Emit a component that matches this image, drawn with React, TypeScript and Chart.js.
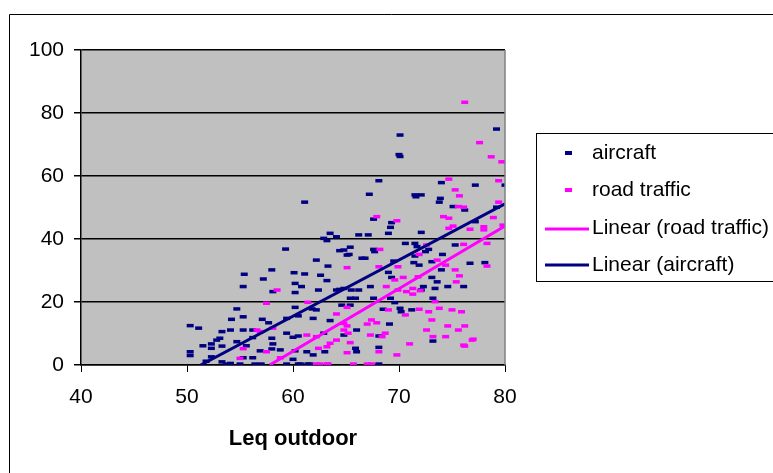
import React, { useEffect, useRef } from "react";
import { Chart, registerables } from "chart.js";
Chart.register(...registerables);

const FONT = '"Liberation Sans", Arial, sans-serif';

const xTicks = [40, 50, 60, 70, 80];
const yTicks = [0, 20, 40, 60, 80, 100];

const aircraftPoints: [number, number][] = [
  [63.5, 41.8], [64.1, 40.7], [62.9, 40.2], [63.2, 39.5], [59.3, 36.8], [64.4, 36.3], [65.1, 34.9], [62.2, 33.3],
  [63.3, 31.4], [55.4, 28.8], [58.0, 30.2], [60.1, 29.3], [61.1, 28.9], [62.6, 28.5], [57.2, 27.3], [63.2, 26.8],
  [55.3, 24.9], [60.2, 25.9], [60.8, 24.9], [58.1, 23.3], [60.2, 23.0], [62.4, 23.8], [64.1, 23.8], [64.4, 24.0],
  [60.2, 18.3], [54.7, 17.8], [61.8, 17.8], [62.2, 17.5], [55.3, 15.3], [54.2, 14.5], [57.1, 14.5], [57.7, 13.4],
  [59.4, 14.8], [60.5, 15.6], [61.9, 14.8], [63.5, 14.1], [50.3, 12.5], [51.1, 11.7], [54.1, 11.1], [53.3, 10.6],
  [55.3, 11.1], [56.2, 11.1], [53.1, 8.5], [52.8, 7.9], [54.7, 7.4], [56.2, 8.7], [58.0, 8.5], [58.1, 6.7],
  [59.4, 10.1], [60.0, 8.8], [60.5, 9.2], [62.9, 10.1], [50.3, 4.2], [50.3, 3.0], [51.5, 6.1], [52.3, 6.7],
  [52.3, 5.3], [53.3, 6.0], [55.6, 6.1], [56.9, 4.5], [58.0, 5.1], [58.8, 4.8], [60.2, 4.5], [61.3, 4.2],
  [61.9, 3.2], [63.0, 4.2], [52.3, 2.6], [55.3, 2.3], [56.2, 2.3], [60.0, 1.8], [53.3, 1.0], [54.1, 0.5],
  [56.4, 0.3], [57.0, 0.3], [59.4, 0.3], [60.5, 0.3], [61.4, 0.3], [61.1, 51.7], [51.8, 1.2], [53.7, 0.3],
  [55.0, 0.3], [60.7, 0.3], [61.6, 0.3],
  [79.2, 74.9], [70.1, 73.0], [70.0, 66.8], [70.1, 66.2], [68.1, 58.5], [74.0, 57.9], [77.2, 57.1], [80.0, 57.1],
  [67.2, 54.2], [71.5, 54.0], [72.1, 54.0], [71.6, 53.4], [73.9, 52.9], [73.8, 51.7], [75.1, 50.3], [76.2, 49.2],
  [79.2, 50.1], [67.6, 46.3], [69.3, 45.2], [69.2, 43.7], [77.2, 45.5],
  [66.2, 41.3], [67.1, 41.3], [69.0, 41.8], [72.1, 42.1], [70.6, 38.6], [71.5, 38.6], [71.7, 37.6], [75.3, 38.1],
  [65.4, 37.4], [64.8, 36.5], [67.6, 36.7], [67.7, 36.0], [65.3, 35.1], [72.8, 36.7], [72.5, 36.0], [74.1, 35.1],
  [66.5, 33.9], [66.8, 33.9], [71.5, 34.6], [69.5, 33.0], [73.1, 32.8], [71.4, 32.5], [71.9, 31.7], [76.7, 32.3],
  [78.1, 32.5], [69.0, 29.4], [74.0, 30.2], [69.3, 27.8], [73.1, 27.8], [73.6, 26.4], [64.8, 24.3], [65.5, 23.8],
  [66.2, 23.8], [67.3, 24.9], [72.3, 24.9], [72.1, 23.8], [73.4, 24.3], [74.6, 24.9], [76.1, 24.9], [65.4, 21.2],
  [65.9, 21.2], [67.6, 21.2], [69.2, 21.2], [69.6, 19.8], [73.2, 21.2], [64.6, 19.0], [65.4, 19.0], [68.5, 17.7],
  [70.1, 18.0], [70.2, 16.9], [71.2, 17.5], [66.0, 11.1], [69.1, 13.0], [64.8, 9.5], [68.1, 9.2], [73.2, 7.6],
  [68.1, 5.6], [65.9, 5.3], [66.0, 4.2], [68.1, 0.3],
];

const roadPoints: [number, number][] = [
  [58.5, 23.8], [57.5, 19.6], [61.4, 19.9], [64.1, 16.2], [56.9, 10.6], [58.1, 11.7], [61.3, 9.5], [62.2, 9.0],
  [55.3, 5.2], [58.8, 2.3], [62.2, 0.3], [63.2, 0.3], [65.1, 30.9], [65.1, 18.3], [64.1, 7.9], [63.2, 5.8],
  [62.4, 5.3], [63.5, 6.9], [64.8, 11.1], [56.6, 11.1], [55.0, 2.1], [57.5, 4.2], [62.5, 0.3], [63.3, 0.3],
  [65.1, 3.9], [69.8, 3.2], [71.0, 6.7], [76.1, 6.3], [76.9, 7.9],
  [76.2, 83.4], [77.6, 70.6], [78.7, 66.1], [79.7, 64.5], [74.7, 59.0], [79.4, 58.5], [75.3, 55.6], [75.7, 53.7],
  [75.6, 50.3], [76.1, 50.1], [79.4, 51.7], [67.9, 47.1], [69.8, 45.8], [74.2, 47.1], [74.7, 46.6], [78.9, 46.8],
  [75.1, 44.1], [74.7, 43.4], [78.0, 43.9], [79.8, 44.4], [76.7, 43.1], [78.0, 42.9],
  [72.6, 38.1], [76.1, 38.3], [78.3, 38.6], [68.2, 36.7], [71.9, 35.1], [73.6, 33.3], [74.4, 31.7], [78.3, 31.4],
  [68.1, 31.2], [69.9, 31.2], [75.3, 30.2], [75.7, 28.3], [69.6, 27.0], [70.4, 27.8], [71.8, 28.0], [75.4, 26.4],
  [68.8, 24.9], [69.9, 23.8], [70.7, 23.3], [71.3, 24.3], [72.0, 23.6], [71.3, 22.5], [73.4, 20.1], [69.0, 17.5],
  [70.6, 15.9], [71.9, 17.7], [72.8, 16.9], [73.8, 18.0], [75.0, 17.5], [75.9, 16.9], [73.1, 14.3], [64.8, 13.2],
  [65.1, 12.4], [67.0, 13.0], [67.4, 14.3], [67.9, 13.4], [72.6, 11.1], [74.6, 12.4], [76.2, 12.4], [75.6, 11.1],
  [65.2, 10.1], [67.3, 9.5], [68.4, 9.0], [68.7, 10.1], [73.2, 9.0], [74.4, 9.0], [77.0, 8.2], [65.4, 7.1],
  [76.2, 6.0], [68.1, 4.2], [65.7, 0.3], [67.0, 0.3], [67.4, 0.3],
];

const linearAircraft: [number, number][] = [[51.3, 0], [80, 51.2]];
const linearRoad: [number, number][] = [[57.8, 0], [80, 44.1]];

const seriesNames = ["aircraft", "road traffic", "Linear (road traffic)", "Linear (aircraft)"];
const NAVY = "#000080";
const MAGENTA = "#FF00FF";

export default function App() {
  const ref = useRef<HTMLCanvasElement>(null);
  useEffect(() => {
    document.body.style.margin = "0";
    const canvas = ref.current!;
    const toXY = (a: [number, number][]) => a.map(([x, y]) => ({ x, y }));

    const deco = {
      id: "deco",
      beforeDraw(chart: any) {
        const { ctx, chartArea: a } = chart;
        ctx.save();
        ctx.fillStyle = "#fff";
        ctx.fillRect(0, 0, chart.width, chart.height);
        ctx.fillStyle = "#C0C0C0";
        ctx.fillRect(a.left, a.top, a.right - a.left, a.bottom - a.top);
        ctx.strokeStyle = "#000";
        ctx.lineWidth = 1;
        ctx.beginPath();
        ctx.moveTo(9.5, 473);
        ctx.lineTo(9.5, 14.5);
        ctx.lineTo(773, 14.5);
        ctx.stroke();
        ctx.restore();
      },
      afterDraw(chart: any) {
        const { ctx, chartArea: a } = chart;
        ctx.save();
        ctx.strokeStyle = "#808080";
        ctx.lineWidth = 1.5;
        ctx.beginPath();
        ctx.moveTo(a.right, a.top);
        ctx.lineTo(a.right, a.bottom);
        ctx.stroke();
        // legend
        ctx.strokeStyle = "#000";
        ctx.lineWidth = 1;
        ctx.strokeRect(536.5, 133.5, 300, 148);
        ctx.fillStyle = NAVY;
        ctx.fillRect(565, 151, 7, 4);
        ctx.fillStyle = MAGENTA;
        ctx.fillRect(565, 188, 7, 4);
        ctx.lineWidth = 3;
        ctx.strokeStyle = MAGENTA;
        ctx.beginPath();
        ctx.moveTo(545, 229);
        ctx.lineTo(589, 229);
        ctx.stroke();
        ctx.strokeStyle = NAVY;
        ctx.beginPath();
        ctx.moveTo(545, 265);
        ctx.lineTo(589, 265);
        ctx.stroke();
        ctx.fillStyle = "#000";
        ctx.font = `21px ${FONT}`;
        ctx.textBaseline = "middle";
        ctx.textAlign = "left";
        const ys = [153, 190, 228, 265];
        seriesNames.forEach((n, i) => ctx.fillText(n, 592, ys[i]));
        // axis title
        ctx.font = `bold 22px ${FONT}`;
        ctx.textAlign = "center";
        ctx.fillText("Leq outdoor", (a.left + a.right) / 2, 439);
        ctx.restore();
      },
    };

    const chart = new Chart(canvas, {
      type: "scatter",
      data: {
        datasets: [
          {
            label: seriesNames[3],
            data: toXY(linearAircraft),
            showLine: true,
            borderColor: NAVY,
            borderWidth: 3,
            pointRadius: 0,
            order: 0,
          },
          {
            label: seriesNames[2],
            data: toXY(linearRoad),
            showLine: true,
            borderColor: MAGENTA,
            borderWidth: 3,
            pointRadius: 0,
            order: 1,
          },
          {
            label: seriesNames[1],
            data: toXY(roadPoints),
            pointStyle: "line",
            pointRadius: 3.5,
            pointBorderWidth: 3.5,
            borderColor: MAGENTA,
            backgroundColor: MAGENTA,
            order: 2,
          },
          {
            label: seriesNames[0],
            data: toXY(aircraftPoints),
            pointStyle: "line",
            pointRadius: 3.5,
            pointBorderWidth: 3.5,
            borderColor: NAVY,
            backgroundColor: NAVY,
            order: 3,
          },
        ],
      },
      options: {
        responsive: false,
        animation: false,
        events: [],
        layout: { padding: { top: 50, right: 268, left: 0, bottom: 0 } },
        plugins: { legend: { display: false }, tooltip: { enabled: false } },
        scales: {
          x: {
            type: "linear",
            min: xTicks[0],
            max: xTicks[xTicks.length - 1],
            afterBuildTicks: (s: any) => { s.ticks = xTicks.map((v) => ({ value: v })); },
            afterFit: (s: any) => { s.height = 108; },
            ticks: { font: { size: 21, family: FONT }, color: "#000", padding: 13, maxRotation: 0 },
            grid: { drawOnChartArea: false, drawTicks: true, tickLength: 7, color: "#000", lineWidth: 1 },
            border: { color: "#000", width: 1.5 },
          },
          y: {
            type: "linear",
            min: yTicks[0],
            max: yTicks[yTicks.length - 1],
            afterBuildTicks: (s: any) => { s.ticks = yTicks.map((v) => ({ value: v })); },
            afterFit: (s: any) => { s.width = 81; },
            ticks: { font: { size: 21, family: FONT }, color: "#000", padding: 10 },
            grid: { color: "#000", lineWidth: 1.5, tickLength: 7 },
            border: { color: "#000", width: 1.5 },
          },
        },
      },
      plugins: [deco],
    } as any);
    return () => chart.destroy();
  }, []);
  return (
    <div style={{ position: "absolute", left: 0, top: 0, width: 773, height: 473 }}>
      <canvas ref={ref} width={773} height={473} style={{ display: "block", width: 773, height: 473 }} />
    </div>
  );
}
